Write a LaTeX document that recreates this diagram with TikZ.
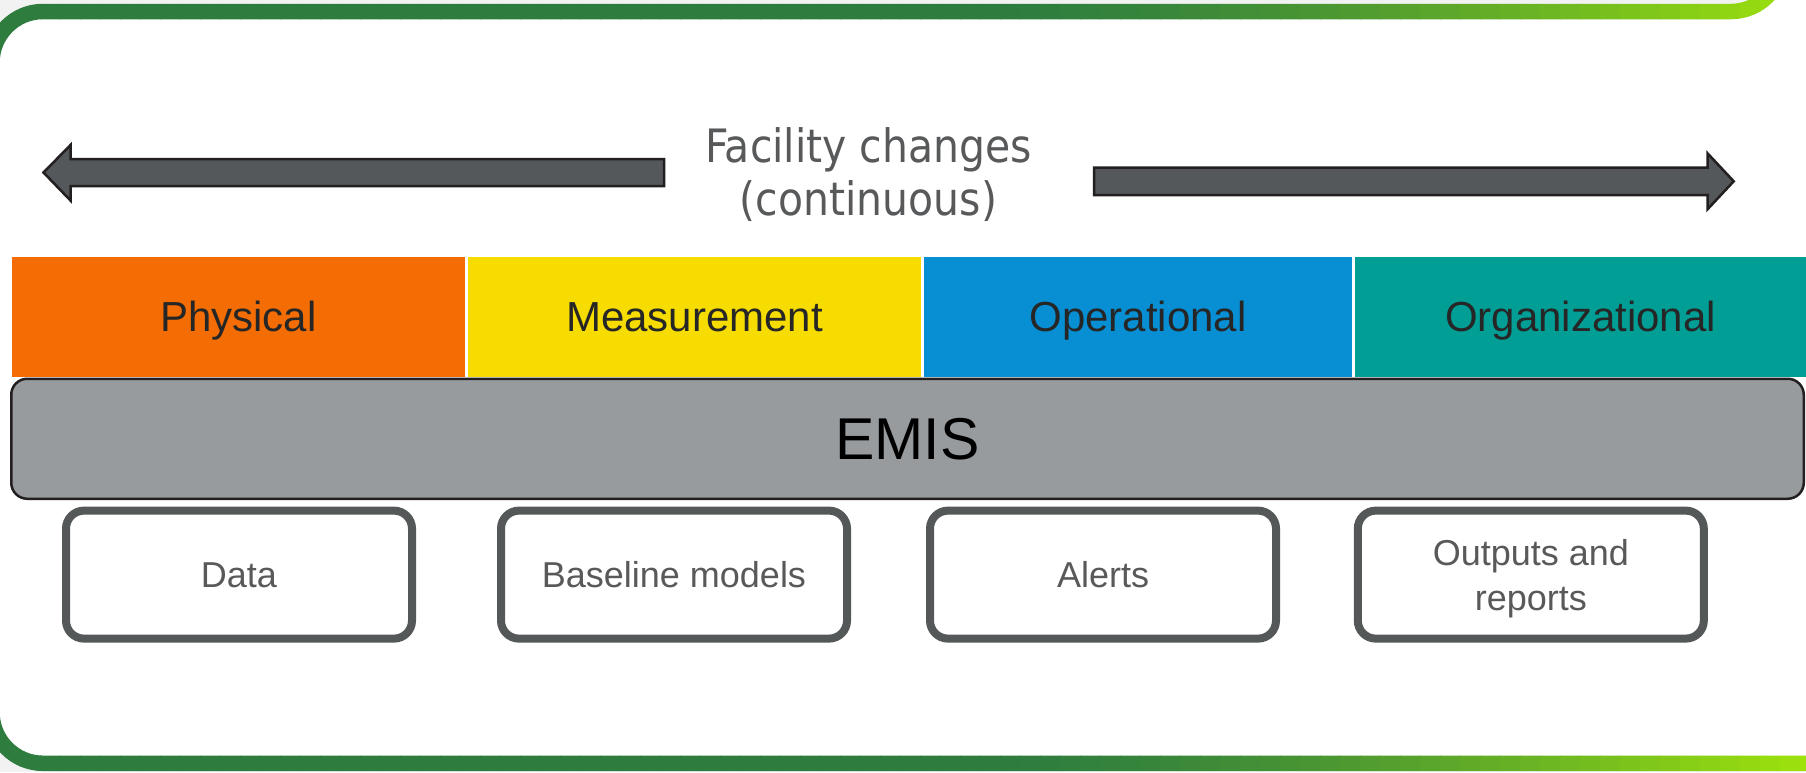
\documentclass[tikz,border=0pt]{standalone}
\usepackage{fontspec}
\setmainfont{Liberation Sans}
\newfontfamily\facfont[FakeStretch=0.89]{DejaVu Sans}
\definecolor{dkgreen}{HTML}{2E7D3F}
\definecolor{limeg}{HTML}{9EE30C}
\definecolor{bgray}{HTML}{F2F2F2}
\definecolor{arrowfill}{HTML}{54585B}
\definecolor{arrowline}{HTML}{231F20}
\definecolor{orangeC}{HTML}{F36D04}
\definecolor{yellowC}{HTML}{F6DC00}
\definecolor{blueC}{HTML}{078ED3}
\definecolor{tealC}{HTML}{009E95}
\definecolor{emisfill}{HTML}{979B9E}
\definecolor{boxline}{HTML}{555859}
\definecolor{boxtext}{HTML}{595959}
\definecolor{bartext}{HTML}{262626}
\definecolor{facgray}{HTML}{58595B}
\begin{document}
\begin{tikzpicture}[x=1pt,y=-1pt,
  bigarrow/.style={fill=arrowfill, draw=arrowline, line width=2.5pt, line join=miter},
  factext/.style={font=\facfont\fontsize{46}{53}\selectfont, text=facgray, align=center, inner sep=0pt},
  bar/.style={draw=none, inner sep=0pt, text height=30pt, text depth=0pt, font=\fontsize{42}{50}\selectfont, text=bartext, minimum height=119.5pt},
  emisbox/.style={draw=arrowline, fill=emisfill, line width=2.5pt, rounded corners=16pt, minimum width=1792.5pt, minimum height=120pt, font=\fontsize{59}{70}\selectfont, text=black, text height=42.2pt, text depth=0pt, inner sep=0pt},
  outbox/.style={draw=boxline, fill=white, line width=8pt, rounded corners=18pt, minimum width=346pt, minimum height=128pt, font=\fontsize{36}{45}\selectfont, text=boxtext, inner sep=0pt, align=center},
  outtext/.style={font=\fontsize{36}{45}\selectfont, text=boxtext, inner sep=0pt, align=center},
  capc/.style={text height=25.8pt, text depth=0pt}
]
\useasboundingbox (0,0) rectangle (1806,772);
\clip (0,0) rectangle (1806,772);
% background
\fill[bgray] (0,0) rectangle (1806,772);
\fill[white, rounded corners=51pt] (-8,11.5) -- (-8,763.3) -- (1900,763.3) -- (1900,11.5) -- cycle;
\fill[white] (1900,-100) -- (1782,-100) -- (1782,-39.5) arc[start angle=0, end angle=-90, radius=51pt] -- (1731,30) -- (1900,30) -- cycle;
% gradient frame line
\foreach \i in {0,...,90}{
  \pgfmathsetmacro\xa{\i*20}
  \pgfmathsetmacro\gradt{min(1,max(0,(\xa+10-1000)/806))}
  \pgfmathsetmacro\gradp{100*\gradt*sqrt(\gradt)}
  \colorlet{stripc}{limeg!\gradp!dkgreen}
  \begin{scope}
    \clip (\xa,-10) rectangle (\xa+20.6,790);
    \draw[stripc, line width=15.5pt, rounded corners=51pt] (1782,-100) -- (1782,11.5) -- (-8,11.5) -- (-8,763.3) -- (1900,763.3);
  \end{scope}
}
% arrows
\draw[bigarrow] (43.5,172.5) -- (70.5,145) -- (70.5,159) -- (664,159) -- (664,186) -- (70.5,186) -- (70.5,200.5) -- cycle;
\draw[bigarrow] (1733.7,181.3) -- (1707.5,153.3) -- (1707.5,167.7) -- (1094,167.7) -- (1094,195) -- (1707.5,195) -- (1707.5,209.3) -- cycle;
\node[factext] (fac) at (868.5,174.5) {Facility changes\\(continuous)};
% colour bars
\node[bar, fill=orangeC, minimum width=453pt] (phys) at (238.5,316.75) {Physical};
\node[bar, fill=yellowC, minimum width=453pt] (meas) at (694.5,316.75) {Measurement};
\node[bar, fill=blueC, minimum width=428pt] (oper) at (1138,316.75) {Operational};
\node[bar, fill=tealC, minimum width=451pt] (orga) at (1580.5,316.75) {Organizational};
% EMIS
\node[emisbox] (emis) at (907.5,438.75) {EMIS};
% bottom boxes
\node[outbox, capc] (data) at (239,574.6) {Data};
\node[outbox, capc] (base) at (674,574.6) {Baseline models};
\node[outbox, capc] (alerts) at (1103,574.6) {Alerts};
\node[outbox] (outs) at (1530.8,574.6) {};
\node[outtext] (outslabel) at (1530.8,579) {Outputs and\\reports};
\end{tikzpicture}
\end{document}
